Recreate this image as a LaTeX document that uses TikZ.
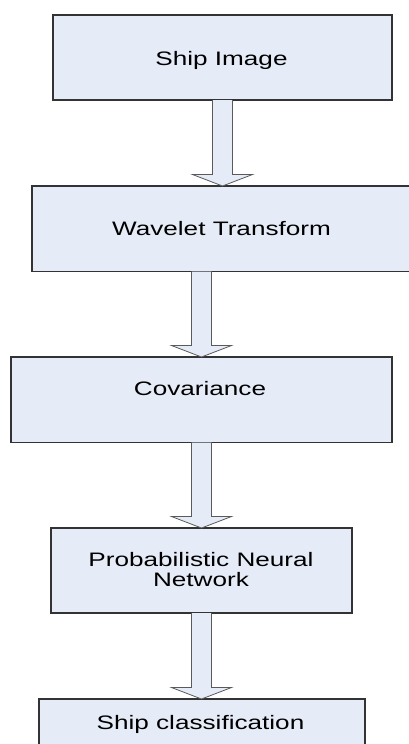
\documentclass[tikz,border=0pt]{standalone}
\usepackage{fontspec}
\setmainfont[FakeStretch=1.34]{Liberation Sans}
\usetikzlibrary{calc}
\definecolor{boxfill}{HTML}{E6ECF7}
\definecolor{boxline}{HTML}{333333}
\definecolor{arrline}{HTML}{5A5A5A}
\tikzset{
  box/.style={draw=boxline, fill=boxfill, line width=1.2pt, rectangle, inner sep=0pt, outer sep=0pt},
  lbl/.style={inner sep=0pt, outer sep=0pt, font=\fontsize{19.5}{20}\selectfont, text=black},
  arrowshape/.style={draw=arrline, fill=boxfill, line width=0.8pt, line join=miter},
}
\newcommand\blockarr[3]{%
  \filldraw[arrowshape] let \p1=(#3.center), \p2=(#1.south), \p3=(#2.north) in
    (\x1-10pt,\y2) -- (\x1-10pt,\y3+11.5pt) -- (\x1-30pt,\y3+11.5pt) -- (\x1,\y3)
    -- (\x1+30pt,\y3+11.5pt) -- (\x1+10pt,\y3+11.5pt) -- (\x1+10pt,\y2);%
}
\begin{document}
\begin{tikzpicture}[x=1pt,y=-1pt]
\useasboundingbox (0,0) rectangle (409,744);
\clip (0,0) rectangle (409,744);
\fill[white] (0,0) rectangle (409,744);
% boxes
\node[box, minimum width=339, minimum height=85] (b1) at (222.5,57.5) {};
\node[box, minimum width=398, minimum height=85.5] (b2) at (231,228.75) {};
\node[box, minimum width=381, minimum height=85.5] (b3) at (201.5,399.75) {};
\node[box, minimum width=301, minimum height=85] (b4) at (201.5,570.5) {};
\node[box, minimum width=326, minimum height=85] (b5) at (202,741.5) {};
% labels
\node[lbl, anchor=base] (t1) at (221.5,65) {Ship Image};
\node[lbl, anchor=base] (t2) at (221.5,235) {Wavelet Transform};
\node[lbl, anchor=base] (t3) at (200,395.7) {Covariance};
\node[lbl, align=center] (t4) at (201,569.7) {Probabilistic Neural\\Network};
\node[lbl, anchor=base] (t5) at (200.5,729) {Ship classification};
% block arrows
\blockarr{b1}{b2}{b1}
\blockarr{b2}{b3}{b3}
\blockarr{b3}{b4}{b3}
\blockarr{b4}{b5}{b4}
\end{tikzpicture}
\end{document}
